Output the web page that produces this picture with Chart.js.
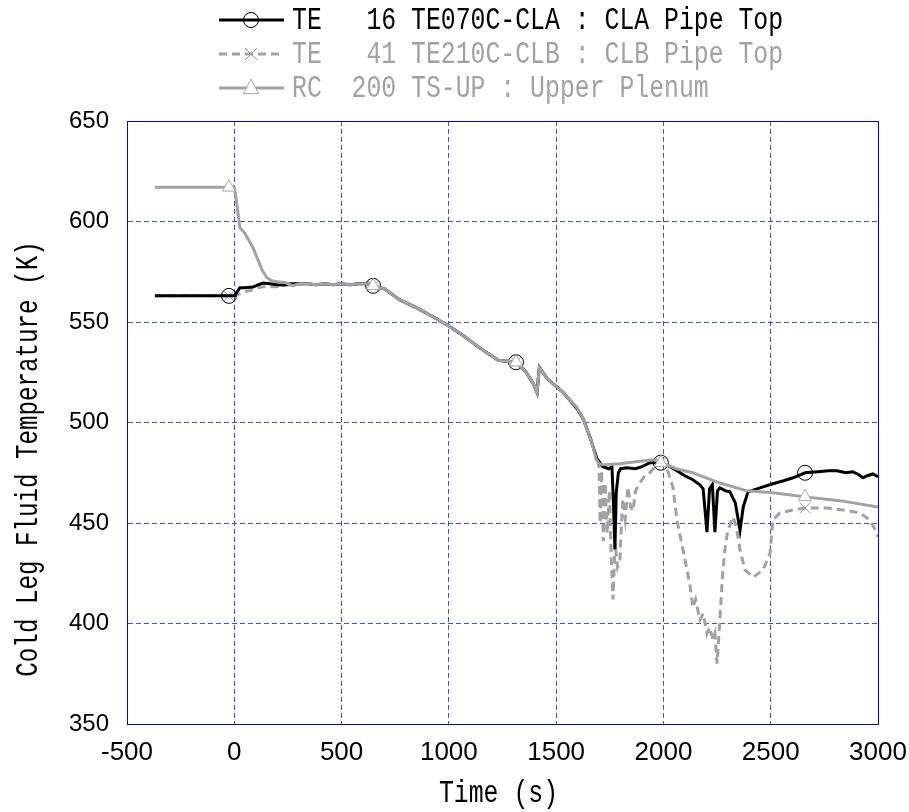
<!DOCTYPE html>
<html>
<head>
<meta charset="utf-8">
<script src="https://cdn.jsdelivr.net/npm/chart.js@4.4.1/dist/chart.umd.min.js"></script>
<style>
  html, body { margin: 0; padding: 0; background: #fff; overflow: hidden; }
  canvas { display: block; }
</style>
</head>
<body>
<canvas id="mainChart" width="909" height="812"></canvas>
<script>
// times where the markers sit (s)
const MARK_T = [-25, 647, 1313, 1988, 2660];

// TE 16 TE070C-CLA : CLA Pipe Top
const T_CLA = [-370, -25, 0, 10, 26, 50, 87, 110, 134, 166, 199, 227, 260, 300, 339, 380, 420, 460, 500, 540,
  580, 618, 647, 700, 772, 850, 920, 1000, 1070, 1145, 1230, 1313, 1360, 1395, 1411, 1418, 1422, 1457, 1500, 1532,
  1565, 1597, 1625, 1643, 1660, 1672, 1690, 1718, 1745, 1760, 1767, 1774, 1780, 1790, 1800, 1830, 1870, 1900, 1937, 1988,
  2030, 2063, 2100, 2137, 2170, 2185, 2203, 2215, 2228, 2240, 2252, 2263, 2290, 2310, 2335, 2357, 2372, 2394, 2450, 2510,
  2560, 2604, 2660, 2720, 2770, 2809, 2850, 2883, 2910, 2930, 2950, 2976, 3000];
const V_CLA = [563, 563, 563, 564.5, 567, 567, 567.4, 568.5, 569.4, 569, 568.5, 568.4, 569, 569, 569, 568.5, 569, 568.5, 569, 568.5,
  569, 569, 568, 566.5, 561, 557, 553, 548, 543, 537, 531, 530, 525, 519, 515, 523, 527.5, 522, 518, 515,
  511, 507, 502, 497, 492, 488, 482, 478, 477, 478, 460, 437, 465, 475, 477, 477.5, 477, 478, 480, 480,
  478, 476, 473.5, 471.5, 469, 467, 445.5, 467, 469, 445.5, 466, 467.5, 466, 465.5, 460, 446.5, 458, 465.5, 467.5, 469.5,
  471, 472.5, 475, 475.5, 476, 476, 475, 475.5, 474, 472.5, 473.5, 474.4, 473];

// TE 41 TE210C-CLB : CLB Pipe Top
const T_CLB = [-370, -25, 0, 10, 26, 50, 87, 110, 134, 166, 199, 227, 260, 300, 339, 380, 420, 460, 500, 540,
  580, 618, 647, 700, 772, 850, 920, 1000, 1070, 1145, 1230, 1313, 1360, 1395, 1411, 1418, 1422, 1457, 1500, 1532,
  1565, 1597, 1625, 1643, 1660, 1672, 1690, 1700, 1705, 1712, 1720, 1728, 1738, 1748, 1757, 1765, 1775, 1786, 1797, 1810,
  1822, 1835, 1847, 1858, 1870, 1891, 1915, 1937, 1960, 1988, 2020, 2044, 2063, 2085, 2110, 2125, 2137, 2150, 2170, 2185,
  2203, 2215, 2231, 2240, 2250, 2263, 2277, 2290, 2301, 2324, 2340, 2357, 2380, 2418, 2464, 2497, 2510, 2543, 2604, 2660,
  2762, 2837, 2916, 2962, 2995, 3000];
const V_CLB = [563, 563, 563, 563.5, 564, 565, 566, 567, 567.5, 567.5, 567.5, 568, 568.5, 569, 569, 568.5, 569, 568.5, 569, 568.5,
  569, 569, 568, 566.5, 561, 557, 553, 548, 543, 537, 531, 530, 525, 519, 515, 523, 527.5, 522, 518, 515,
  511, 507, 502, 497, 492, 488, 482, 478, 450, 476, 441, 470, 445, 466, 432, 412, 440, 428, 431, 462,
  452, 468, 458, 456, 466, 470, 474, 475, 478, 480, 476, 468, 451.5, 440, 426.6, 418, 408, 412, 401.7, 405,
  395, 398, 392, 395, 380, 401.7, 426.6, 440, 446.5, 453, 448, 436.6, 426.6, 423, 426.6, 435, 451.5, 455, 456.5, 457.5,
  457.5, 456.5, 455, 451.5, 445, 443];

// RC 200 TS-UP : Upper Plenum
const T_UP = [-370, -25, -5, 0, 10, 26, 50, 87, 110, 129, 152, 175, 199, 240, 273, 300, 339, 380, 420, 460,
  500, 540, 580, 618, 647, 700, 772, 850, 920, 1000, 1070, 1145, 1230, 1313, 1360, 1395, 1411, 1418, 1422, 1457,
  1500, 1532, 1565, 1597, 1625, 1643, 1660, 1672, 1685, 1700, 1720, 1797, 1870, 1951, 1988, 2060, 2137, 2260, 2389, 2510,
  2660, 2830, 3000];
const V_UP = [617, 617, 617.5, 617, 610, 597, 594, 587, 581, 576, 572, 570.5, 570, 569.5, 568, 569, 569, 568.5, 569, 568.5,
  569, 568.5, 569, 569, 568, 566.5, 561, 557, 553, 548, 543, 537, 531, 530, 525, 519, 515, 523, 527.5, 522,
  518, 515, 511, 507.5, 502, 497, 492, 488, 482, 479.5, 479, 479.5, 480.5, 481.5, 480, 477, 475, 470, 466, 465,
  463, 461, 458];

const X_TICKS = [-500, 0, 500, 1000, 1500, 2000, 2500, 3000];
const Y_TICKS = [350, 400, 450, 500, 550, 600, 650];

const LABELS = [
  'TE   16 TE070C-CLA : CLA Pipe Top',
  'TE   41 TE210C-CLB : CLB Pipe Top',
  'RC  200 TS-UP : Upper Plenum'
];
const X_TITLE = 'Time (s)';
const Y_TITLE = 'Cold Leg Fluid Temperature (K)';

const GRAY = '#a2a2a2';
const BLUE = '#0000e6';
const GRID = 'rgba(40,40,235,0.85)';
const MONO = '"Liberation Mono", "DejaVu Sans Mono", monospace';

function pts(ts, vs) {
  return ts.map((t, i) => ({ x: t, y: vs[i] }));
}
const markRadius = c => (c.raw && MARK_T.includes(c.raw.x)) ? 7.5 : 0;

// tall, narrow text like the gothic font of the original
function narrowText(ctx, text, x, y, size, sx, color, align, rotate) {
  ctx.save();
  ctx.translate(x, y);
  if (rotate) ctx.rotate(-Math.PI / 2);
  ctx.scale(sx, 1);
  ctx.font = size + 'px ' + MONO;
  ctx.fillStyle = color;
  ctx.textAlign = align;
  ctx.textBaseline = 'middle';
  ctx.fillText(text, 0, 0);
  ctx.restore();
}

function drawMarker(ctx, ds, x, y) {
  const r = 7.5;
  ctx.lineWidth = 1;
  ctx.strokeStyle = ds.pointBorderColor;
  ctx.fillStyle = ds.pointBackgroundColor;
  ctx.beginPath();
  if (ds.pointStyle === 'circle') {
    ctx.arc(x, y, r, 0, Math.PI * 2);
    ctx.fill();
    ctx.stroke();
  } else if (ds.pointStyle === 'triangle') {
    ctx.moveTo(x, y - r * 1.2);
    ctx.lineTo(x + r, y + r * 0.75);
    ctx.lineTo(x - r, y + r * 0.75);
    ctx.closePath();
    ctx.fill();
    ctx.stroke();
  } else {
    ctx.moveTo(x - r * 0.8, y - r * 0.8); ctx.lineTo(x + r * 0.8, y + r * 0.8);
    ctx.moveTo(x + r * 0.8, y - r * 0.8); ctx.lineTo(x - r * 0.8, y + r * 0.8);
    ctx.stroke();
  }
}

// legend and axis titles
const extras = {
  id: 'extras',
  afterDraw(chart) {
    const ctx = chart.ctx;
    ctx.save();
    chart.data.datasets.forEach((ds, i) => {
      const y = 20 + 34 * i;
      ctx.setLineDash(ds.borderDash || []);
      ctx.strokeStyle = ds.borderColor;
      ctx.lineWidth = ds.borderWidth;
      ctx.beginPath();
      ctx.moveTo(219, y);
      ctx.lineTo(284, y);
      ctx.stroke();
      ctx.setLineDash([]);
      drawMarker(ctx, ds, 251, y);
      narrowText(ctx, ds.label, 292, y + 1, 31, 0.8, ds.textColor, 'left', false);
    });
    const a = chart.chartArea;
    narrowText(ctx, X_TITLE, (a.left + a.right) / 2 - 4, 794, 31, 0.8, '#000', 'center', false);
    narrowText(ctx, Y_TITLE, 29, 459, 31, 0.78, '#000', 'center', true);
    ctx.restore();
  }
};

const plotFrame = {
  id: 'plotFrame',
  afterDatasetsDraw(chart) {
    const { ctx, chartArea: a } = chart;
    ctx.save();
    ctx.strokeStyle = BLUE;
    ctx.lineWidth = 1;
    ctx.strokeRect(a.left + 0.5, a.top + 0.5, a.right - a.left, a.bottom - a.top);
    ctx.restore();
  }
};

new Chart(document.getElementById('mainChart'), {
  type: 'line',
  data: {
    datasets: [
      {
        label: LABELS[0], data: pts(T_CLA, V_CLA), textColor: '#000',
        borderColor: '#000', borderWidth: 3, order: 1,
        pointStyle: 'circle', pointRadius: markRadius, pointBorderWidth: 1,
        pointBorderColor: '#000', pointBackgroundColor: 'rgba(0,0,0,0)'
      },
      {
        label: LABELS[1], data: pts(T_CLB, V_CLB), textColor: GRAY,
        borderColor: GRAY, borderWidth: 3, borderDash: [8, 5], order: 2,
        pointStyle: 'crossRot', pointRadius: markRadius, pointBorderWidth: 1,
        pointBorderColor: '#999', pointBackgroundColor: 'rgba(0,0,0,0)'
      },
      {
        label: LABELS[2], data: pts(T_UP, V_UP), textColor: GRAY,
        borderColor: GRAY, borderWidth: 3, order: 0,
        pointStyle: 'triangle', pointRadius: markRadius, pointBorderWidth: 1,
        pointBorderColor: '#aaa', pointBackgroundColor: '#fff'
      }
    ]
  },
  options: {
    responsive: false,
    animation: false,
    events: [],
    layout: { autoPadding: false, padding: { top: 121, right: 31, left: 0, bottom: 0 } },
    elements: { line: { tension: 0 } },
    plugins: { legend: { display: false }, tooltip: { enabled: false } },
    scales: {
      x: {
        type: 'linear', min: -500, max: 3000,
        afterBuildTicks: s => { s.ticks = X_TICKS.map(v => ({ value: v })); },
        afterFit: s => { s.height = 88; s.paddingLeft = 0; s.paddingRight = 0; },
        ticks: { color: '#000', padding: 13, callback: v => String(v),
          font: { family: '"Liberation Sans Narrow", "Liberation Sans"', size: 26 } },
        grid: { color: GRID, lineWidth: 1, drawTicks: false },
        border: { display: true, color: BLUE, width: 1, dash: [5, 3] }
      },
      y: {
        min: 350, max: 650,
        afterBuildTicks: s => { s.ticks = Y_TICKS.map(v => ({ value: v })); },
        afterFit: s => { s.width = 127; s.paddingTop = 0; s.paddingBottom = 0; },
        ticks: { color: '#000', padding: 18, callback: v => String(v),
          font: { family: '"Liberation Sans", Arial', size: 24 } },
        grid: { color: GRID, lineWidth: 1, drawTicks: false },
        border: { display: true, color: BLUE, width: 1, dash: [5, 3] }
      }
    }
  },
  plugins: [plotFrame, extras]
});
</script>
</body>
</html>
